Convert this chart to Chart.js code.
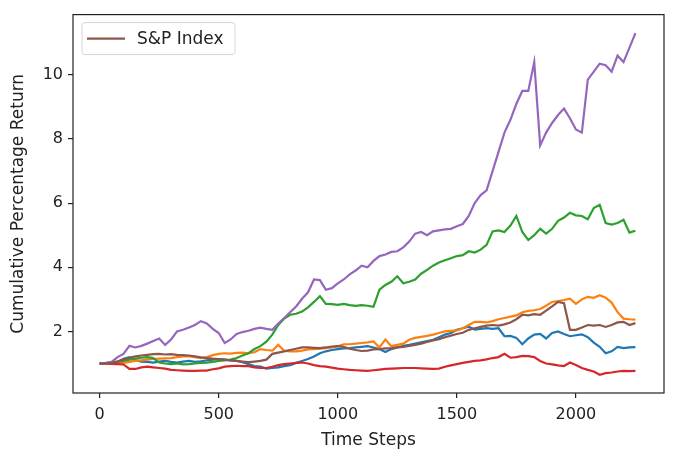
<!DOCTYPE html>
<html>
<head>
<meta charset="utf-8">
<script src="https://cdn.jsdelivr.net/npm/chart.js@4"></script>
<style>
  html, body { margin: 0; padding: 0; background: #fff; }
  #wrap { width: 674px; height: 456px; }
</style>
</head>
<body>
<div id="wrap"><canvas id="returnsChart" width="674" height="456"></canvas></div>
<script>
// ---- Data (one value every 25 time steps) ----
const steps = Array.from({ length: 91 }, (_, i) => i * 25);

const blueSeries = [
  1.00, 1.00, 1.02, 1.05, 1.15, 1.20, 1.10, 1.06, 1.05, 1.03,
  1.06, 1.08, 1.05, 1.03, 1.06, 1.08, 1.05, 1.07, 1.10, 1.12,
  1.14, 1.12, 1.10, 1.08, 1.04, 0.98, 0.92, 0.90, 0.84, 0.86,
  0.88, 0.92, 0.95, 1.02, 1.08, 1.14, 1.22, 1.32, 1.38, 1.42,
  1.45, 1.47, 1.48, 1.50, 1.52, 1.54, 1.50, 1.45, 1.36, 1.45,
  1.50, 1.55, 1.58, 1.62, 1.66, 1.70, 1.74, 1.82, 1.90, 1.95,
  2.05, 2.10, 2.15, 2.06, 2.08, 2.10, 2.08, 2.10, 1.85, 1.86,
  1.80, 1.60, 1.78, 1.90, 1.92, 1.78, 1.95, 2.00, 1.92, 1.85,
  1.88, 1.91, 1.82, 1.65, 1.52, 1.32, 1.38, 1.52, 1.48, 1.50, 1.51
];
const orangeSeries = [
  1.00, 1.00, 1.01, 1.02, 1.02, 1.05, 1.08, 1.10, 1.12, 1.14,
  1.15, 1.16, 1.17, 1.20, 1.22, 1.23, 1.20, 1.17, 1.20, 1.26,
  1.30, 1.32, 1.31, 1.33, 1.34, 1.32, 1.35, 1.45, 1.42, 1.40,
  1.58, 1.40, 1.38, 1.38, 1.40, 1.44, 1.45, 1.46, 1.48, 1.50,
  1.54, 1.60, 1.60, 1.62, 1.64, 1.66, 1.69, 1.50, 1.75, 1.54,
  1.58, 1.62, 1.74, 1.80, 1.83, 1.86, 1.90, 1.95, 2.00, 2.02,
  2.03, 2.10, 2.20, 2.30, 2.30, 2.28, 2.32, 2.38, 2.42, 2.46,
  2.50, 2.60, 2.64, 2.66, 2.70, 2.80, 2.92, 2.95, 2.98, 3.02,
  2.86, 3.00, 3.08, 3.05, 3.13, 3.05, 2.90, 2.60, 2.40, 2.38, 2.37
];
const greenSeries = [
  1.00, 1.01, 1.03, 1.06, 1.08, 1.12, 1.15, 1.18, 1.20, 1.17,
  1.03, 1.00, 0.98, 1.00, 0.97, 0.98, 1.00, 1.02, 1.03, 1.05,
  1.08, 1.10, 1.12, 1.17, 1.25, 1.32, 1.45, 1.54, 1.68, 1.90,
  2.20, 2.40, 2.52, 2.55, 2.62, 2.75, 2.92, 3.10, 2.86, 2.85,
  2.83, 2.86, 2.82, 2.80, 2.82, 2.80, 2.77, 3.30, 3.45, 3.55,
  3.72, 3.50, 3.55, 3.62, 3.80, 3.92, 4.05, 4.15, 4.22, 4.28,
  4.35, 4.38, 4.50, 4.46, 4.55, 4.70, 5.12, 5.15, 5.10, 5.30,
  5.60, 5.10, 4.85, 5.00, 5.20, 5.05, 5.20, 5.45, 5.55, 5.70,
  5.62, 5.60, 5.50, 5.85, 5.95, 5.38, 5.33, 5.38, 5.48, 5.08, 5.14
];
const redSeries = [
  1.00, 1.00, 0.99, 0.98, 0.97, 0.83, 0.83, 0.88, 0.90, 0.88,
  0.86, 0.84, 0.80, 0.79, 0.78, 0.77, 0.77, 0.78, 0.78, 0.82,
  0.85, 0.90, 0.92, 0.93, 0.92, 0.92, 0.88, 0.86, 0.86, 0.90,
  0.95, 0.98, 1.00, 1.02, 1.03, 1.00, 0.95, 0.92, 0.90, 0.87,
  0.84, 0.82, 0.80, 0.79, 0.78, 0.77, 0.79, 0.81, 0.83, 0.84,
  0.85, 0.86, 0.86, 0.86, 0.85, 0.84, 0.83, 0.84, 0.90, 0.94,
  0.98, 1.02, 1.05, 1.08, 1.10, 1.13, 1.17, 1.20, 1.30, 1.18,
  1.20, 1.24, 1.23, 1.20, 1.08, 1.00, 0.97, 0.94, 0.92, 1.03,
  0.95, 0.86, 0.80, 0.75, 0.65, 0.70, 0.72, 0.75, 0.77, 0.76, 0.77
];
const purpleSeries = [
  1.00, 1.02, 1.05, 1.20, 1.30, 1.55, 1.50, 1.55, 1.62, 1.70,
  1.78, 1.58, 1.75, 2.00, 2.05, 2.12, 2.20, 2.32, 2.25, 2.08,
  1.95, 1.64, 1.75, 1.92, 1.98, 2.02, 2.08, 2.12, 2.08, 2.05,
  2.25, 2.42, 2.60, 2.78, 3.02, 3.22, 3.62, 3.60, 3.30, 3.35,
  3.50, 3.62, 3.78, 3.90, 4.05, 4.00, 4.20, 4.35, 4.40, 4.48,
  4.50, 4.62, 4.80, 5.05, 5.10, 5.00, 5.12, 5.15, 5.18, 5.20,
  5.28, 5.35, 5.60, 6.00, 6.25, 6.40, 7.00, 7.60, 8.20, 8.60,
  9.10, 9.50, 9.50, 10.40, 7.80, 8.20, 8.50, 8.75, 8.95, 8.65,
  8.30, 8.20, 9.85, 10.10, 10.35, 10.30, 10.10, 10.60, 10.40, 10.85, 11.30
];
const spSeries = [
  1.00, 1.00, 1.02, 1.06, 1.12, 1.18, 1.22, 1.25, 1.27, 1.29,
  1.30, 1.28, 1.29, 1.27, 1.26, 1.25, 1.22, 1.19, 1.17, 1.15,
  1.14, 1.12, 1.10, 1.08, 1.06, 1.04, 1.06, 1.08, 1.12, 1.30,
  1.34, 1.38, 1.42, 1.46, 1.50, 1.50, 1.49, 1.48, 1.50, 1.53,
  1.54, 1.52, 1.46, 1.42, 1.39, 1.40, 1.44, 1.45, 1.47, 1.48,
  1.50, 1.52, 1.55, 1.58, 1.62, 1.67, 1.72, 1.76, 1.82, 1.87,
  1.92, 1.96, 2.05, 2.10, 2.14, 2.18, 2.20, 2.18, 2.22, 2.28,
  2.38, 2.52, 2.50, 2.54, 2.52, 2.65, 2.78, 2.92, 2.88, 2.05,
  2.05, 2.12, 2.20, 2.18, 2.20, 2.14, 2.20, 2.28, 2.30, 2.20, 2.26
];

const xTicks = [0, 500, 1000, 1500, 2000];
const yTicks = [2, 4, 6, 8, 10];
const legendLabel = "S&P Index";

// ---- Look ----
const FONT = "'DejaVu Sans', sans-serif";
const TEXT = "#222";

function series(label, values, color, order) {
  return {
    label: label,
    data: values.map((v, i) => ({ x: steps[i], y: v })),
    borderColor: color,
    borderWidth: 2.2,
    pointRadius: 0,
    tension: 0,
    fill: false,
    order: order
  };
}

// frame round the plot + matplotlib-style legend box
const framePlugin = {
  id: "frame",
  afterDraw(chart) {
    const { ctx, chartArea: a } = chart;
    ctx.save();
    ctx.strokeStyle = "#222";
    ctx.lineWidth = 1.2;
    ctx.strokeRect(a.left, a.top, a.right - a.left, a.bottom - a.top);

    const ds = chart.data.datasets.find(d => d.label === legendLabel);
    const bx = a.left + 9, by = a.top + 8, bw = 153, bh = 32;
    ctx.beginPath();
    ctx.roundRect(bx, by, bw, bh, 3);
    ctx.fillStyle = "rgba(255,255,255,0.8)";
    ctx.fill();
    ctx.strokeStyle = "#d6d6d6";
    ctx.lineWidth = 1;
    ctx.stroke();

    ctx.beginPath();
    ctx.moveTo(bx + 5, by + bh / 2);
    ctx.lineTo(bx + 43, by + bh / 2);
    ctx.strokeStyle = ds.borderColor;
    ctx.lineWidth = 2.2;
    ctx.stroke();

    ctx.fillStyle = TEXT;
    ctx.font = "17px " + FONT;
    ctx.textBaseline = "middle";
    ctx.fillText(legendLabel, bx + 55, by + bh / 2 + 1);
    ctx.restore();
  }
};

new Chart(document.getElementById("returnsChart"), {
  type: "line",
  data: {
    datasets: [
      series("", blueSeries, "#1f77b4", 5),
      series("", orangeSeries, "#ff7f0e", 4),
      series("", greenSeries, "#2ca02c", 3),
      series("", redSeries, "#d62728", 2),
      series("", purpleSeries, "#9467bd", 1),
      series(legendLabel, spSeries, "#8c564b", 0)
    ]
  },
  options: {
    responsive: false,
    animation: false,
    devicePixelRatio: 1,
    layout: { padding: { top: 10, right: 10, left: 0, bottom: 0 } },
    plugins: {
      legend: { display: false },
      tooltip: { enabled: false }
    },
    scales: {
      x: {
        type: "linear",
        min: -112,
        max: 2370,
        afterBuildTicks: s => { s.ticks = xTicks.map(v => ({ value: v })); },
        afterFit: s => { s.height = 63; },
        ticks: { font: { family: FONT, size: 16 }, color: TEXT, padding: 7, maxRotation: 0, autoSkip: false, callback: v => String(v) },
        grid: { display: true, drawOnChartArea: false, drawTicks: true, tickLength: 5, color: "#222", lineWidth: 1.2 },
        border: { display: false },
        title: { display: true, text: "Time Steps", font: { family: FONT, size: 17 }, color: TEXT, padding: { top: 0, bottom: 5 } }
      },
      y: {
        type: "linear",
        min: 0.08,
        max: 11.88,
        afterBuildTicks: s => { s.ticks = yTicks.map(v => ({ value: v })); },
        afterFit: s => { s.width = 73; },
        ticks: { font: { family: FONT, size: 16 }, color: TEXT, padding: 5, callback: v => String(v) },
        grid: { display: true, drawOnChartArea: false, drawTicks: true, tickLength: 5, color: "#222", lineWidth: 1.2 },
        border: { display: false },
        title: { display: true, text: "Cumulative Percentage Return", font: { family: FONT, size: 17 }, color: TEXT, padding: { top: 8, bottom: 0 } }
      }
    }
  },
  plugins: [framePlugin]
});
</script>
</body>
</html>
